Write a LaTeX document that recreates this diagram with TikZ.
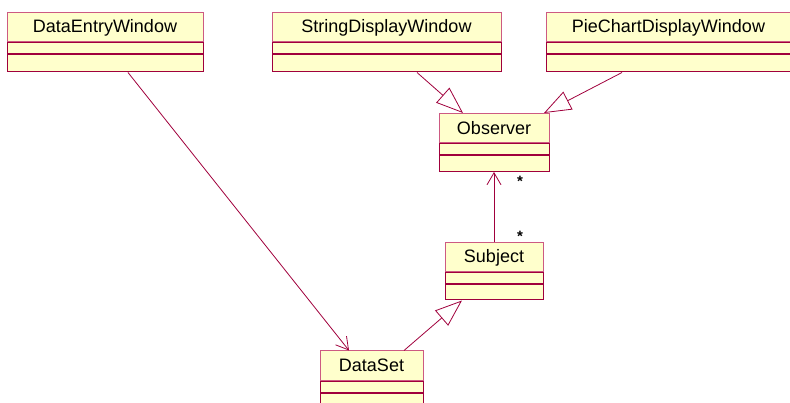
\documentclass[tikz,border=0pt]{standalone}
\usepackage{fontspec}
\setmainfont{Liberation Sans}
\usetikzlibrary{arrows.meta}
\definecolor{umlred}{RGB}{160,0,60}
\definecolor{umlpink}{RGB}{205,90,130}
\definecolor{umlfill}{RGB}{255,255,204}
\begin{document}
\begin{tikzpicture}[x=1pt,y=-1pt,
  classbox/.style={draw=umlpink,fill=umlfill,line width=1pt,inner sep=0pt,
    minimum height=29pt,font=\fontsize{18}{21}\selectfont},
  compbox/.style={draw=umlred,fill=umlfill,line width=1pt,inner sep=0pt},
  assoc/.style={draw=umlred,line width=0.8pt,-{Straight Barb[length=12pt,width=14pt]}},
  inherit/.style={draw=umlred,line width=0.8pt,-{Triangle[open,length=27pt,width=20pt,fill=white]}},
  mult/.style={inner sep=0pt,font=\fontsize{15}{17}\selectfont\bfseries}]
\useasboundingbox (0,0) rectangle (790,403);
% classes
\node[classbox,minimum width=196pt] (entry) at (105,27.5) {DataEntryWindow};
\node[compbox,minimum width=196pt,minimum height=11pt,anchor=north] (entry2) at (entry.south) {};
\node[compbox,minimum width=196pt,minimum height=17pt,anchor=north] (entry3) at (entry2.south) {};
\node[classbox,minimum width=229pt] (strdisp) at (386.5,27.5) {StringDisplayWindow};
\node[compbox,minimum width=229pt,minimum height=11pt,anchor=north] (strdisp2) at (strdisp.south) {};
\node[compbox,minimum width=229pt,minimum height=17pt,anchor=north] (strdisp3) at (strdisp2.south) {};
\node[classbox,minimum width=245pt] (piedisp) at (668.5,27.5) {PieChartDisplayWindow};
\node[compbox,minimum width=245pt,minimum height=11pt,anchor=north] (piedisp2) at (piedisp.south) {};
\node[compbox,minimum width=245pt,minimum height=17pt,anchor=north] (piedisp3) at (piedisp2.south) {};
\node[classbox,minimum width=110pt] (observer) at (494,128) {Observer};
\node[compbox,minimum width=110pt,minimum height=11pt,anchor=north] (observer2) at (observer.south) {};
\node[compbox,minimum width=110pt,minimum height=16pt,anchor=north] (observer3) at (observer2.south) {};
\node[classbox,minimum width=98pt] (subject) at (494,257.5) {Subject};
\node[compbox,minimum width=98pt,minimum height=11pt,anchor=north] (subject2) at (subject.south) {};
\node[compbox,minimum width=98pt,minimum height=15pt,anchor=north] (subject3) at (subject2.south) {};
\node[classbox,minimum width=103pt] (dataset) at (371.5,365.5) {DataSet};
\node[compbox,minimum width=103pt,minimum height=11pt,anchor=north] (dataset2) at (dataset.south) {};
\node[compbox,minimum width=103pt,minimum height=17pt,anchor=north] (dataset3) at (dataset2.south) {};
% relations
\draw[assoc] ([xshift=23pt]entry3.south) -- ([xshift=-22.5pt]dataset.north);
\draw[inherit] ([xshift=30.5pt]strdisp3.south) -- ([xshift=-31pt]observer.north);
\draw[inherit] ([xshift=-46.5pt]piedisp3.south) -- ([xshift=50pt]observer.north);
\draw[inherit] ([xshift=32.5pt]dataset.north) -- ([xshift=-32pt]subject3.south);
\draw[assoc] (subject.north) -- (observer3.south);
\node[mult] (obsmult) at (520,181) {*};
\node[mult] (subjmult) at (520,236) {*};
\end{tikzpicture}
\end{document}
